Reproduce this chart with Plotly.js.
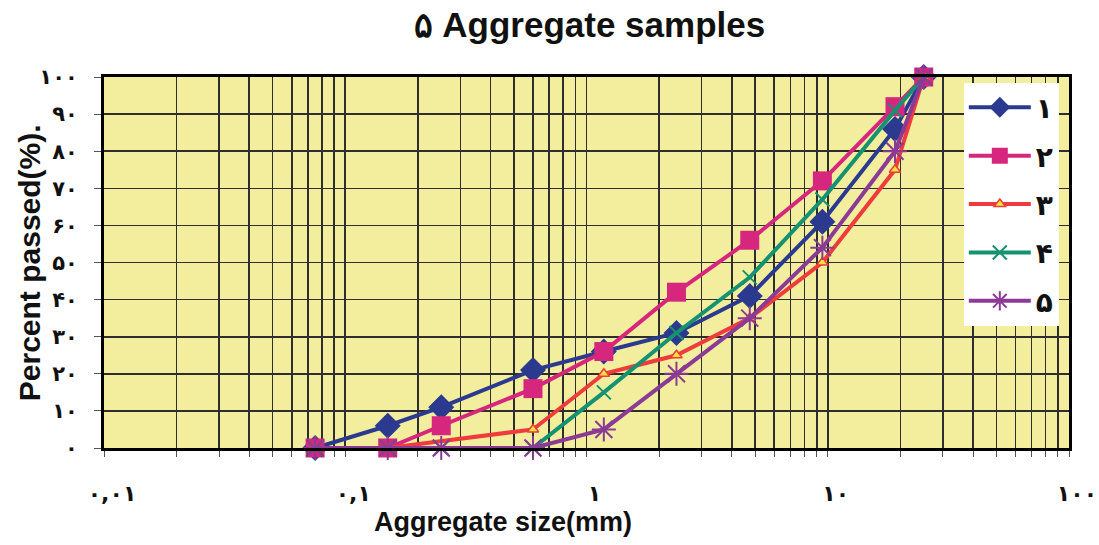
<!DOCTYPE html>
<html>
<head>
<meta charset="utf-8">
<script src="https://cdn.plot.ly/plotly-3.0.1.min.js"></script>
<style>html,body{margin:0;padding:0;background:#fff;}#chart{width:1099px;height:545px;}</style>
</head>
<body>
<div id="chart"></div>
<script>
// Sieve sizes (mm)
var sizes = [0.075, 0.15, 0.25, 0.6, 1.18, 2.36, 4.75, 9.5, 19, 25];
// Percent passed for each sample
var sample1 = [0, 6, 11, 21, 26, 31, 41, 61, 86, 100];
var sample2 = [0, 0, 6, 16, 26, 42, 56, 72, 92, 100];
var sample3 = [0, 0, null, 5, 20, 25, 35, 50, 75, 100];
var sample4 = [0, 0, 0, 0, 15, 31, 46, 67, 91, 100];
var sample5 = [0, 0, 0, 0, 5, 20, 35, 54, 80, 100];
var seriesNames = ["۱", "۲", "۳", "۴", "۵"];

// Tick labels
var yTickVals = [0, 10, 20, 30, 40, 50, 60, 70, 80, 90, 100];
var yTickText = ["۰", "۱۰", "۲۰", "۳۰", "۴۰", "۵۰", "۶۰", "۷۰", "۸۰", "۹۰", "۱۰۰"];
var xDecades = [0.01, 0.1, 1, 10, 100];
var xDecadeText = ["۰,۰۱", "۰,۱", "۱", "۱۰", "۱۰۰"];

// grid positions: 1..9 x each decade
var xTickVals = [], xTickText = [];
for (var d = 0; d < xDecades.length; d++) {
  var lim = (d === xDecades.length - 1) ? 1 : 9;
  for (var m = 1; m <= lim; m++) {
    xTickVals.push(xDecades[d] * m);
    xTickText.push(m === 1 ? xDecadeText[d] : "");
  }
}

var lw = 4;
var traces = [
  {x: sizes, y: sample1, name: seriesNames[0], legendgroup: "g1",
   line: {color: "#2B3A8F", width: lw},
   marker: {symbol: "diamond", size: 20, color: "#2B3A8F"}},
  {x: sizes, y: sample2, name: seriesNames[1], legendgroup: "g2",
   line: {color: "#D6267E", width: lw},
   marker: {symbol: "square", size: 19, color: "#D6267E"}},
  {x: sizes, y: sample3, name: seriesNames[2], legendgroup: "g3", connectgaps: true,
   line: {color: "#EE3B3B", width: lw},
   marker: {symbol: "triangle-up", size: 10, color: "#F5E33A", line: {color: "#EE3B3B", width: 1.5}}},
  {x: sizes, y: sample4, name: seriesNames[3], legendgroup: "g4",
   line: {color: "#159270", width: lw},
   marker: {symbol: "x-thin-open", size: 14, color: "#159270", line: {color: "#159270", width: 2}}},
  {x: sizes, y: sample5, name: seriesNames[4], legendgroup: "g5",
   line: {color: "#8B3A96", width: lw},
   marker: {symbol: "asterisk-open", size: 20, color: "#8B3A96", line: {color: "#8B3A96", width: 2}}}
];
traces.forEach(function(t){ t.type = "scatter"; t.mode = "lines+markers"; t.cliponaxis = false; });

var layout = {
  width: 1099, height: 545,
  margin: {l: 104, r: 30, t: 77, b: 97},
  paper_bgcolor: "#ffffff",
  plot_bgcolor: "#F3EE9E",
  title: {text: "۵ Aggregate samples", x: 0.503, xref: "paper", xanchor: "center", y: 0.955, yanchor: "middle",
          font: {family: "Liberation Sans, Arial, sans-serif", size: 35, color: "#111", weight: "bold"}},
  xaxis: {type: "log", range: [-2, 2], tickvals: xTickVals, ticktext: xTickText,
          showgrid: true, gridcolor: "#2e2e2e", gridwidth: 1.6,
          showline: true, linecolor: "#000", linewidth: 3, mirror: true,
          ticks: "outside", ticklen: 6, tickcolor: "#555", tickwidth: 1,
          ticklabelstandoff: 18, ticklabelshift: 8,
          tickfont: {family: "DejaVu Sans, sans-serif", size: 22, color: "#111", weight: "bold"},
          zeroline: false, fixedrange: true},
  yaxis: {range: [0, 100], tickvals: yTickVals, ticktext: yTickText,
          showgrid: true, gridcolor: "#2e2e2e", gridwidth: 1.6,
          showline: true, linecolor: "#000", linewidth: 3, mirror: true,
          ticks: "outside", ticklen: 7, tickcolor: "#555", tickwidth: 1,
          ticklabelstandoff: 12,
          tickfont: {family: "DejaVu Sans, sans-serif", size: 21, color: "#111", weight: "bold"},
          zeroline: false, fixedrange: true},
  showlegend: true,
  legend: {x: 0.891, xanchor: "left", y: 0.985, yanchor: "top",
           bgcolor: "#ffffff", borderwidth: 0, itemwidth: 62,
           traceorder: "grouped", tracegroupgap: 9,
           font: {family: "DejaVu Sans, sans-serif", size: 28, color: "#111", weight: "bold"}},
  annotations: [
    {text: "Percent passed(%).", xref: "paper", yref: "paper", x: -0.077, y: 0.5,
     textangle: -90, showarrow: false, xanchor: "center", yanchor: "middle",
     font: {family: "Liberation Sans, Arial, sans-serif", size: 30, color: "#111", weight: "bold"}},
    {text: "Aggregate size(mm)", xref: "paper", yref: "paper", x: 0.413, y: -0.2,
     showarrow: false, xanchor: "center", yanchor: "middle",
     font: {family: "Liberation Sans Narrow, Liberation Sans, Arial, sans-serif", size: 27, color: "#111", weight: "bold"}}
  ]
};

Plotly.newPlot("chart", traces, layout, {displayModeBar: false, staticPlot: true});
</script>
</body>
</html>
